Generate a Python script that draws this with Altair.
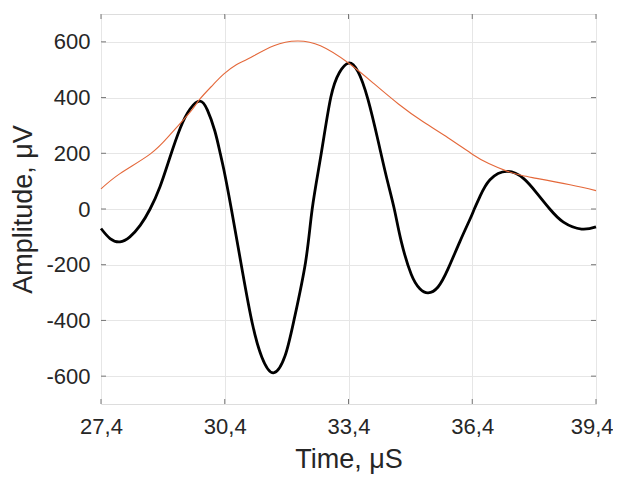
import altair as alt
import pandas as pd

# Waveform (black)
t_signal = [27.40, 27.62, 27.86, 28.10, 28.35, 28.59, 28.83, 29.07, 29.32, 29.56,
            29.80, 29.98, 30.16, 30.29, 30.38, 30.56, 30.83, 31.07, 31.30, 31.58,
            31.86, 32.08, 32.36, 32.52, 32.74, 32.97, 33.18, 33.40, 33.63, 33.87,
            34.12, 34.32, 34.51, 34.68, 34.92, 35.13, 35.33, 35.57, 35.81, 36.10,
            36.35, 36.45, 36.59, 36.83, 37.24, 37.64, 37.96, 38.28, 38.61, 39.05, 39.40]
v_signal = [-70, -106, -118, -100, -59, 0, 80, 185, 290, 359,
            387, 355, 280, 200, 140, 0, -225, -412, -532, -588,
            -528, -398, -190, 0, 200, 400, 490, 524, 493, 394,
            243, 115, 0, -117, -234, -286, -301, -280, -216, -117,
            -35, 0, 46, 105, 135, 110, 58, 0, -47, -72, -64]

# Envelope (orange)
t_env = [27.40, 27.86, 28.59, 29.07, 29.56, 29.80, 30.11, 30.38, 30.68, 30.98,
         31.59, 32.16, 32.72, 33.40, 34.00, 34.61, 35.21, 35.82, 36.42, 36.80,
         37.24, 37.61, 37.96, 38.77, 39.40]
v_env = [72, 127, 197, 266, 348, 395, 445, 485, 518, 540,
         586, 603, 586, 524, 452, 377, 313, 255, 195, 163,
         136, 120, 110, 87, 66]

x_ticks = [27.4, 30.4, 33.4, 36.4, 39.4]
y_ticks = [-600, -400, -200, 0, 200, 400, 600]

sig = pd.DataFrame({"t": t_signal, "v": v_signal})
env = pd.DataFrame({"t": t_env, "v": v_env})
xt = pd.DataFrame({"t": x_ticks})
yt = pd.DataFrame({"v": y_ticks})

W, H = 495, 390
FONT = "Liberation Sans"
TXT = "#262626"
FRAME = "#777777"
GRID = "#e6e6e6"

xscale = alt.Scale(domain=[27.4, 39.4], nice=False, zero=False)
yscale = alt.Scale(domain=[-700, 700], nice=False, zero=False)

xaxis = alt.Axis(values=x_ticks, labelExpr="replace(format(datum.value, '.1f'), '.', ',')",
                 title="Time, μS", grid=True, gridColor=GRID, ticks=False, domain=False,
                 labelFont=FONT, titleFont=FONT, labelFontSize=22, titleFontSize=27,
                 labelColor=TXT, titleColor=TXT, titleFontWeight="normal",
                 labelPadding=12, titleBaseline="alphabetic", titleY=63, labelFlush=False,
                 labelAlign=alt.ConditionalAxisLabelAlign(
                     condition={"test": "datum.value > 39", "value": "right"}, value="center"),
                 labelOffset=alt.ConditionalAxisNumber(
                     condition={"test": "datum.value > 39", "value": 17}, value=0))
yaxis = alt.Axis(values=y_ticks, labelExpr="'' + datum.value",
                 title="Amplitude, μV", grid=True, gridColor=GRID, ticks=False, domain=False,
                 labelFont=FONT, titleFont=FONT, labelFontSize=22, titleFontSize=27,
                 labelColor=TXT, titleColor=TXT, titleFontWeight="normal",
                 labelPadding=11, titlePadding=8, labelFlush=False)

base_sig = alt.Chart(sig).mark_line(color="black", strokeWidth=2.8, interpolate="natural").encode(
    x=alt.X("t:Q", scale=xscale, axis=xaxis),
    y=alt.Y("v:Q", scale=yscale, axis=yaxis),
)
env_line = alt.Chart(env).mark_line(color="#E4683A", strokeWidth=1.1, interpolate="natural").encode(
    x=alt.X("t:Q", scale=xscale),
    y=alt.Y("v:Q", scale=yscale),
)

xt_bottom = alt.Chart(xt).mark_rule(color=FRAME, strokeWidth=1).encode(
    x=alt.X("t:Q", scale=xscale), y=alt.value(H), y2=alt.value(H - 5))
xt_top = alt.Chart(xt).mark_rule(color=FRAME, strokeWidth=1).encode(
    x=alt.X("t:Q", scale=xscale), y=alt.value(0), y2=alt.value(5))
yt_left = alt.Chart(yt).mark_rule(color=FRAME, strokeWidth=1).encode(
    y=alt.Y("v:Q", scale=yscale), x=alt.value(0), x2=alt.value(5))
yt_right = alt.Chart(yt).mark_rule(color=FRAME, strokeWidth=1).encode(
    y=alt.Y("v:Q", scale=yscale), x=alt.value(W), x2=alt.value(W - 5))

chart = alt.layer(base_sig, env_line, xt_bottom, xt_top, yt_left, yt_right).properties(
    width=W, height=H,
    autosize=alt.AutoSizeParams(type="none"),
    padding={"left": 93, "top": 6, "right": 17, "bottom": 70},
).configure_view(stroke=FRAME, strokeWidth=1).configure(background="white")

chart.save("out.html", embed_options={"renderer": "svg", "actions": False})
